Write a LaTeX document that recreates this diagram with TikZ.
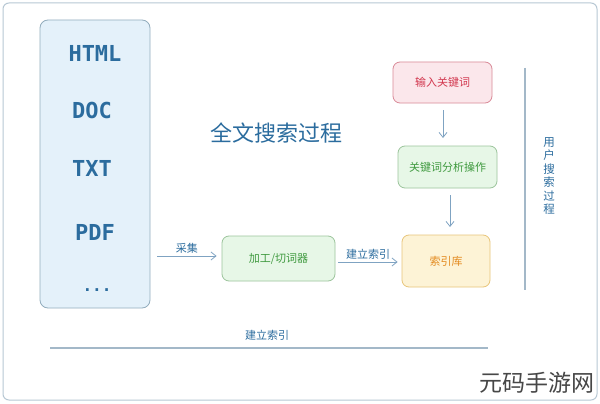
\documentclass[tikz,border=0pt]{standalone}
\usepackage{fontspec}
\setmainfont{Noto Sans CJK SC}
\newfontfamily\monof{DejaVu Sans Mono}
\newfontfamily\cjkf{Noto Sans CJK SC}
\usetikzlibrary{arrows.meta}
\definecolor{txtblue}{HTML}{2B6C9E}
\definecolor{panelfill}{HTML}{E4F1FA}
\definecolor{panelline}{HTML}{93ADBD}
\definecolor{pinkfill}{HTML}{FBE7EB}
\definecolor{pinkline}{HTML}{D98A98}
\definecolor{pinktxt}{HTML}{D2384F}
\definecolor{greenfill}{HTML}{E7F7E7}
\definecolor{greenline}{HTML}{9CC49C}
\definecolor{greentxt}{HTML}{3F9A3F}
\definecolor{yelfill}{HTML}{FDF3D6}
\definecolor{yelline}{HTML}{E8C57A}
\definecolor{yeltxt}{HTML}{E38A1F}
\definecolor{arrowc}{HTML}{7FA3C2}
\definecolor{framec}{HTML}{B8C8D4}
\definecolor{linec}{HTML}{A3B8C8}
\tikzset{
  box/.style={draw, rounded corners=7pt, line width=0.8pt, inner sep=0pt, font=\cjkf\fontsize{11}{13}\selectfont},
  pinkbox/.style={box, fill=pinkfill, draw=pinkline, text=pinktxt},
  greenbox/.style={box, fill=greenfill, draw=greenline, text=greentxt},
  yelbox/.style={box, fill=yelfill, draw=yelline, text=yeltxt},
  flow/.style={draw=arrowc, line width=0.8pt, -{Straight Barb[length=5pt,width=8pt]}},
  fmt/.style={text=txtblue, font=\monof\bfseries\fontsize{22}{26}\selectfont},
  lbl/.style={text=txtblue, font=\cjkf\fontsize{11}{13}\selectfont, inner sep=1pt},
}
\begin{document}
\begin{tikzpicture}[x=1pt,y=-1pt]
\useasboundingbox (0,0) rectangle (600,404);
\fill[white] (0,0) rectangle (600,404);
% outer frame
\draw[framec, line width=1pt, rounded corners=6pt] (3,3) rectangle (597,400);
% left panel
\draw[panelline, fill=panelfill, line width=0.8pt, rounded corners=8pt] (40,20) rectangle (150,308);
\node[fmt] (html) at (95,53) {HTML};
\node[fmt] (doc) at (92,110) {DOC};
\node[fmt] (txt) at (92,168) {TXT};
\node[fmt] (pdf) at (95,232) {PDF};
\node[fmt, font=\monof\bfseries\fontsize{16}{20}\selectfont] (dots) at (97,290) {...};
% title
\node[text=txtblue, font=\cjkf\fontsize{22}{26}\selectfont] (title) at (276,133) {全文搜索过程};
% boxes
\node[pinkbox, minimum width=99pt, minimum height=41pt] (input) at (442.5,82.5) {输入关键词};
\node[greenbox, minimum width=99pt, minimum height=42pt] (analyze) at (447.5,167) {关键词分析操作};
\node[yelbox, minimum width=88pt, minimum height=52pt] (index) at (446,261) {索引库};
\node[greenbox, minimum width=113pt, minimum height=45pt] (proc) at (278.5,258.5) {加工/切词器};
% arrow endpoints
\coordinate (srcR) at (157,256);
\coordinate (a1s) at (443,110);
\coordinate (a1e) at (443,138);
\coordinate (a2s) at (450,195);
\coordinate (a2e) at (450,227);
\draw[flow] (srcR) -- node[lbl, above=1pt] {采集} ([xshift=-5pt]srcR -| proc.west);
\draw[flow] ([xshift=3pt]proc.east |- 0,262) -- node[lbl, above=1pt] {建立索引} ([xshift=-4pt]index.west |- 0,262);
\draw[flow] (a1s) -- (a1e);
\draw[flow] (a2s) -- (a2e);
% right vertical line and label
\coordinate (vt) at (525,68);
\coordinate (vb) at (525,290);
\draw[linec, line width=1.2pt] (vt) -- (vb);
\node[lbl, align=center, font=\cjkf\fontsize{11.5}{13.5}\selectfont] (user) at (549,176) {用\\户\\搜\\索\\过\\程};
% bottom line
\coordinate (bl) at (50,348);
\coordinate (br) at (488,348);
\draw[linec, line width=1.2pt] (bl) -- (br);
\node[lbl] (bottomlbl) at (267,335) {建立索引};
% watermark
\node[text=black!72, font=\cjkf\fontsize{23}{26}\selectfont, inner sep=0pt] (wm) at (537,383) {元码手游网};
\end{tikzpicture}
\end{document}
